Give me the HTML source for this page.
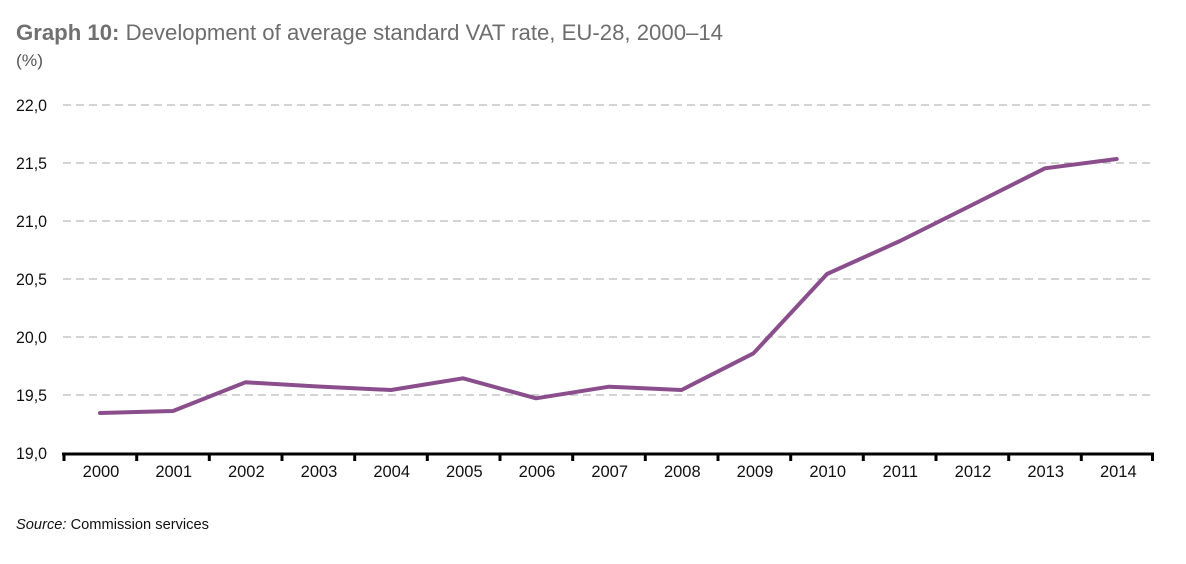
<!DOCTYPE html>
<html>
<head>
<meta charset="utf-8">
<style>
html,body{margin:0;padding:0;background:#fff;}
svg{display:block;}
text{font-family:"Liberation Sans",Arial,sans-serif;}
</style>
</head>
<body>
<svg width="1186" height="564" viewBox="0 0 1186 564" xmlns="http://www.w3.org/2000/svg">
<rect width="1186" height="564" fill="#fff"/>
<text x="16" y="40" font-size="22" fill="#6d6d6d" textLength="707" lengthAdjust="spacingAndGlyphs"><tspan font-weight="bold" fill="#707070">Graph 10:</tspan> Development of average standard VAT rate, EU-28, 2000–14</text>
<text x="16" y="66" font-size="17" fill="#555" textLength="27" lengthAdjust="spacingAndGlyphs">(%)</text>

<g stroke="#a8a8a8" stroke-width="1" stroke-dasharray="8,5">
<line x1="63" y1="105" x2="1153" y2="105"/>
<line x1="63" y1="163" x2="1153" y2="163"/>
<line x1="63" y1="221" x2="1153" y2="221"/>
<line x1="63" y1="279" x2="1153" y2="279"/>
<line x1="63" y1="337" x2="1153" y2="337"/>
<line x1="63" y1="395" x2="1153" y2="395"/>
</g>

<g font-size="17" fill="#111">
<text x="16" y="111" textLength="31" lengthAdjust="spacingAndGlyphs">22,0</text>
<text x="16" y="169" textLength="31" lengthAdjust="spacingAndGlyphs">21,5</text>
<text x="16" y="227" textLength="31" lengthAdjust="spacingAndGlyphs">21,0</text>
<text x="16" y="285" textLength="31" lengthAdjust="spacingAndGlyphs">20,5</text>
<text x="16" y="343" textLength="31" lengthAdjust="spacingAndGlyphs">20,0</text>
<text x="16" y="401" textLength="31" lengthAdjust="spacingAndGlyphs">19,5</text>
<text x="16" y="459" textLength="31" lengthAdjust="spacingAndGlyphs">19,0</text>
</g>

<line x1="62" y1="454" x2="1154" y2="454" stroke="#000" stroke-width="3"/>
<g stroke="#000" stroke-width="3">
<line x1="64" y1="453" x2="64" y2="461"/>
<line x1="136.7" y1="453" x2="136.7" y2="461"/>
<line x1="209.3" y1="453" x2="209.3" y2="461"/>
<line x1="282" y1="453" x2="282" y2="461"/>
<line x1="354.7" y1="453" x2="354.7" y2="461"/>
<line x1="427.3" y1="453" x2="427.3" y2="461"/>
<line x1="500" y1="453" x2="500" y2="461"/>
<line x1="572.7" y1="453" x2="572.7" y2="461"/>
<line x1="645.3" y1="453" x2="645.3" y2="461"/>
<line x1="718" y1="453" x2="718" y2="461"/>
<line x1="790.7" y1="453" x2="790.7" y2="461"/>
<line x1="863.3" y1="453" x2="863.3" y2="461"/>
<line x1="936" y1="453" x2="936" y2="461"/>
<line x1="1008.7" y1="453" x2="1008.7" y2="461"/>
<line x1="1081.3" y1="453" x2="1081.3" y2="461"/>
<line x1="1152.5" y1="453" x2="1152.5" y2="461"/>
</g>

<g font-size="16.5" fill="#111" text-anchor="middle">
<text x="101" y="477">2000</text>
<text x="173.7" y="477">2001</text>
<text x="246.3" y="477">2002</text>
<text x="319" y="477">2003</text>
<text x="391.7" y="477">2004</text>
<text x="464.3" y="477">2005</text>
<text x="537" y="477">2006</text>
<text x="609.7" y="477">2007</text>
<text x="682.3" y="477">2008</text>
<text x="755" y="477">2009</text>
<text x="827.7" y="477">2010</text>
<text x="900.3" y="477">2011</text>
<text x="973" y="477">2012</text>
<text x="1045.7" y="477">2013</text>
<text x="1118.3" y="477">2014</text>
</g>

<polyline fill="none" stroke="#8a4e8c" stroke-width="4" stroke-linejoin="round" stroke-linecap="round"
points="100,413 173,411 245.5,382.3 318,386.5 391,390 463,378.3 536,398.3 609,386.7 681.5,390 753.5,353.3 827,274 900,241 972,205 1045,168.3 1116.7,159"/>

<text x="16" y="529" font-size="15" fill="#111" textLength="193" lengthAdjust="spacingAndGlyphs"><tspan font-style="italic">Source:</tspan> Commission services</text>
</svg>
</body>
</html>
